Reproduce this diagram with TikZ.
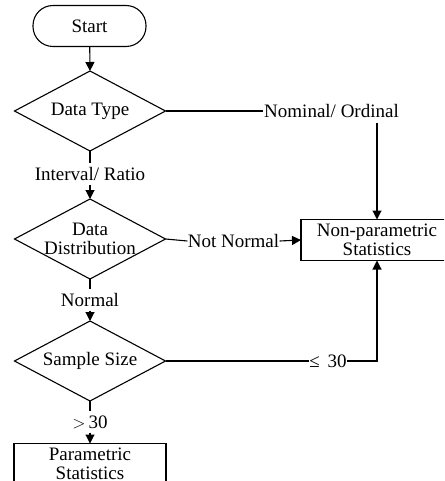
\documentclass[tikz,border=0pt]{standalone}
\usepackage{fontspec}
\setmainfont{Liberation Serif}
\usetikzlibrary{shapes.geometric,arrows.meta}
\begin{document}
\begin{tikzpicture}[x=1pt,y=-1pt,
  font=\fontsize{19}{18.5}\selectfont,
  line width=1.1pt,
  arr/.style={-{Triangle[length=9pt,width=9pt]}},
  dec/.style={draw,diamond,inner sep=0pt,outer sep=0pt,minimum width=151pt,minimum height=80pt},
  box/.style={draw,rectangle,inner sep=0pt,outer sep=0pt,minimum width=152pt,minimum height=41pt,align=center},
  lab/.style={inner xsep=1pt,inner ysep=4pt,outer sep=0pt}]
\useasboundingbox (0,0) rectangle (444,481);
\clip (0,0) rectangle (444,481);
\node[draw,rectangle,rounded corners=20pt,minimum width=113pt,minimum height=41pt,inner sep=0pt] (start) at (89.5,26) {Start};
\node[dec,label={center:Data Type}] (dt) at (90,111) {};
\node[dec,label={[align=center]center:Data\\Distribution}] (dd) at (90,239) {};
\node[dec,label={center:Sample Size}] (ss) at (90,361) {};
\node[box] (np) at (377,240) {Non-parametric\\Statistics};
\node[box] (par) at (90,464) {Parametric\\Statistics};
\node[lab] (ir) at (90,174) {Interval/ Ratio};
\node[lab] (nom) at (331.5,111) {Nominal/ Ordinal};
\node[lab,inner xsep=0.5pt] (nn) at (233.5,241) {Not Normal};
\node[lab] (nrm) at (90,300) {Normal};
\node[lab,inner xsep=0.5pt] (le) at (328,361) {≤ \,30};
\node[lab] (gt) at (90,422) {$>$\,30};
\coordinate (corner) at (377,361);
\coordinate (nomdown) at (377,123);
\draw[arr] (start) -- (dt.north);
\draw (dt.south) -- (ir.north);
\draw[arr] (ir.south) -- (dd.north);
\draw (dt.east) -- (nom.west);
\draw[arr] (nomdown) -- (np.north);
\draw (dd.east) -- (nn.west);
\draw[arr] (nn.east) -- (np.west);
\draw (dd.south) -- (nrm.north);
\draw[arr] (nrm.south) -- (ss.north);
\draw (ss.east) -- (le.west);
\draw[arr] (le.east) -- (corner) -- (np.south);
\draw (ss.south) -- (gt.north);
\draw[arr] (gt.south) -- (par.north);
\end{tikzpicture}
\end{document}
